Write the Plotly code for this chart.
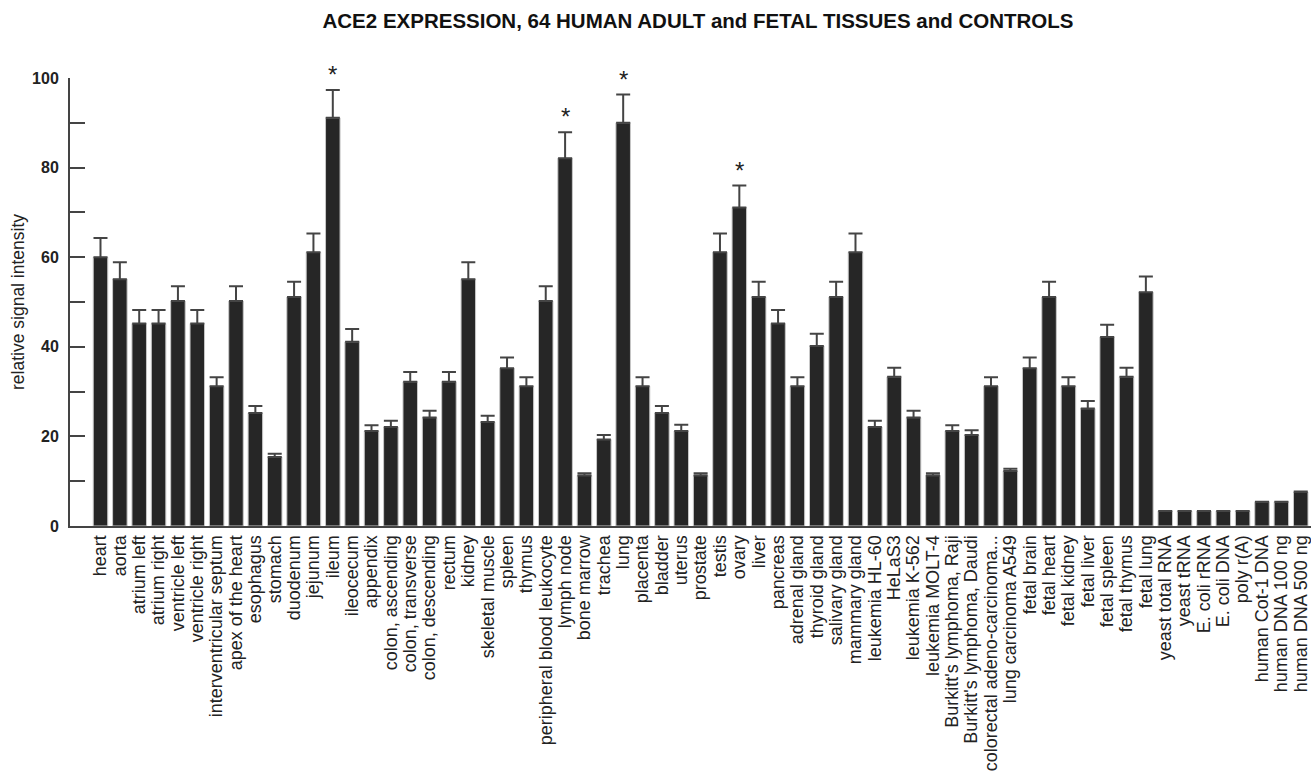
import plotly.graph_objects as go

tissues = [
    "heart", "aorta", "atrium left", "atrium right", "ventricle left", "ventricle right",
    "interventricular septum", "apex of the heart", "esophagus", "stomach", "duodenum",
    "jejunum", "ileum", "ileocecum", "appendix", "colon, ascending", "colon, transverse",
    "colon, descending", "rectum", "kidney", "skeletal muscle", "spleen", "thymus",
    "peripheral blood leukocyte", "lymph node", "bone marrow", "trachea", "lung",
    "placenta", "bladder", "uterus", "prostate", "testis", "ovary", "liver", "pancreas",
    "adrenal gland", "thyroid gland", "salivary gland", "mammary gland", "leukemia HL-60",
    "HeLaS3", "leukemia K-562", "leukemia MOLT-4", "Burkitt's lymphoma, Raji",
    "Burkitt's lymphoma, Daudi", "colorectal adeno-carcinoma...", "lung carcinoma A549",
    "fetal brain", "fetal heart", "fetal kidney", "fetal liver", "fetal spleen",
    "fetal thymus", "fetal lung", "yeast total RNA", "yeast tRNA", "E. coli rRNA",
    "E. coli DNA", "poly r(A)", "human Cot-1 DNA", "human DNA 100 ng", "human DNA 500 ng",
]

signal = [
    60.0, 55.1, 45.2, 45.2, 50.2, 45.2, 31.2, 50.2, 25.2, 15.4, 51.1,
    61.1, 91.1, 41.1, 21.2, 22.1, 32.2, 24.2, 32.2, 55.1, 23.2, 35.2, 31.2,
    50.2, 82.1, 11.3, 19.3, 90.0, 31.2, 25.2, 21.2, 11.3, 61.1, 71.1, 51.1, 45.2,
    31.2, 40.2, 51.1, 61.1, 22.1, 33.3, 24.2, 11.3, 21.2, 20.3, 31.2, 12.3,
    35.2, 51.1, 31.2, 26.2, 42.2, 33.3, 52.2, 3.35, 3.35, 3.35, 3.35, 3.35,
    5.4, 5.4, 7.6,
]

error = [
    4.3, 3.8, 3.0, 3.0, 3.3, 3.0, 2.0, 3.3, 1.6, 0.7, 3.4,
    4.2, 6.2, 2.9, 1.3, 1.4, 2.2, 1.5, 2.2, 3.8, 1.4, 2.4, 2.0,
    3.3, 5.8, 0.5, 1.0, 6.3, 2.0, 1.6, 1.4, 0.5, 4.2, 4.9, 3.4, 3.0,
    2.0, 2.7, 3.4, 4.2, 1.4, 2.0, 1.5, 0.5, 1.3, 1.1, 2.0, 0.5,
    2.4, 3.4, 2.0, 1.7, 2.7, 2.0, 3.5, 0, 0, 0, 0, 0,
    0, 0, 0.1,
]

significant = ["ileum", "lymph node", "lung", "ovary"]

y_tick_vals = [0, 10, 20, 30, 40, 50, 60, 70, 80, 90, 100]
y_tick_text = ["0", "", "20", "", "40", "", "60", "", "80", "", "100"]

W, H = 1311, 779
ML, MR, MT, MB = 70, 0, 78, 253
FONT = "Arial, Liberation Sans, Helvetica, sans-serif"

fig = go.Figure()
fig.add_trace(go.Bar(
    x=tissues,
    y=signal,
    marker=dict(color="#262626", line=dict(color="#c8c8c8", width=1)),
    error_y=dict(type="data", array=error, arrayminus=[0] * len(error),
                 symmetric=False, color="#444444", thickness=2, width=7),
    showlegend=False,
    hoverinfo="skip",
))

for t in significant:
    i = tissues.index(t)
    fig.add_annotation(
        x=t, y=signal[i] + error[i], text="*", showarrow=False,
        yanchor="bottom", yshift=0,
        font=dict(family=FONT, size=24, color="#222222"),
    )

# y-axis title placed precisely
fig.add_annotation(
    xref="paper", yref="paper",
    x=(18 - ML) / (W - ML - MR), y=0.5,
    xanchor="center", yanchor="middle",
    text="relative signal intensity", textangle=-90, showarrow=False,
    font=dict(family=FONT, size=17.5, color="#222222"),
)

fig.update_layout(
    width=W, height=H,
    margin=dict(l=ML, r=MR, t=MT, b=MB),
    paper_bgcolor="white", plot_bgcolor="white",
    bargap=0.25,
    font=dict(family=FONT, color="#222222"),
    title=dict(
        text="<b>ACE2 EXPRESSION, 64 HUMAN ADULT and FETAL TISSUES and CONTROLS</b>",
        x=698 / W, xanchor="center", xref="container",
        y=1 - 21 / H, yanchor="middle", yref="container",
        font=dict(family=FONT, size=20.5, color="#111111"),
    ),
    xaxis=dict(
        type="category",
        range=[-1.575, 62.53],
        showline=True, linecolor="#444444", linewidth=2,
        ticks="", tickangle=-90,
        tickmode="array", tickvals=tissues, ticktext=tissues,
        tickfont=dict(family=FONT, size=18, color="#222222"),
        showgrid=False, zeroline=False,
    ),
    yaxis=dict(
        range=[0, 100],
        showline=True, linecolor="#444444", linewidth=2,
        ticks="inside", ticklen=15, tickwidth=2, tickcolor="#444444",
        tickmode="array", tickvals=y_tick_vals, ticktext=y_tick_text,
        tickfont=dict(family=FONT, size=16, color="#222222", weight="bold"),
        ticklabelstandoff=6,
        showgrid=False, zeroline=False,
    ),
)

fig.write_html(
    "out.html",
    config={"displayModeBar": False},
    post_script="document.body.style.margin='0';document.documentElement.style.overflow='hidden';",
)
